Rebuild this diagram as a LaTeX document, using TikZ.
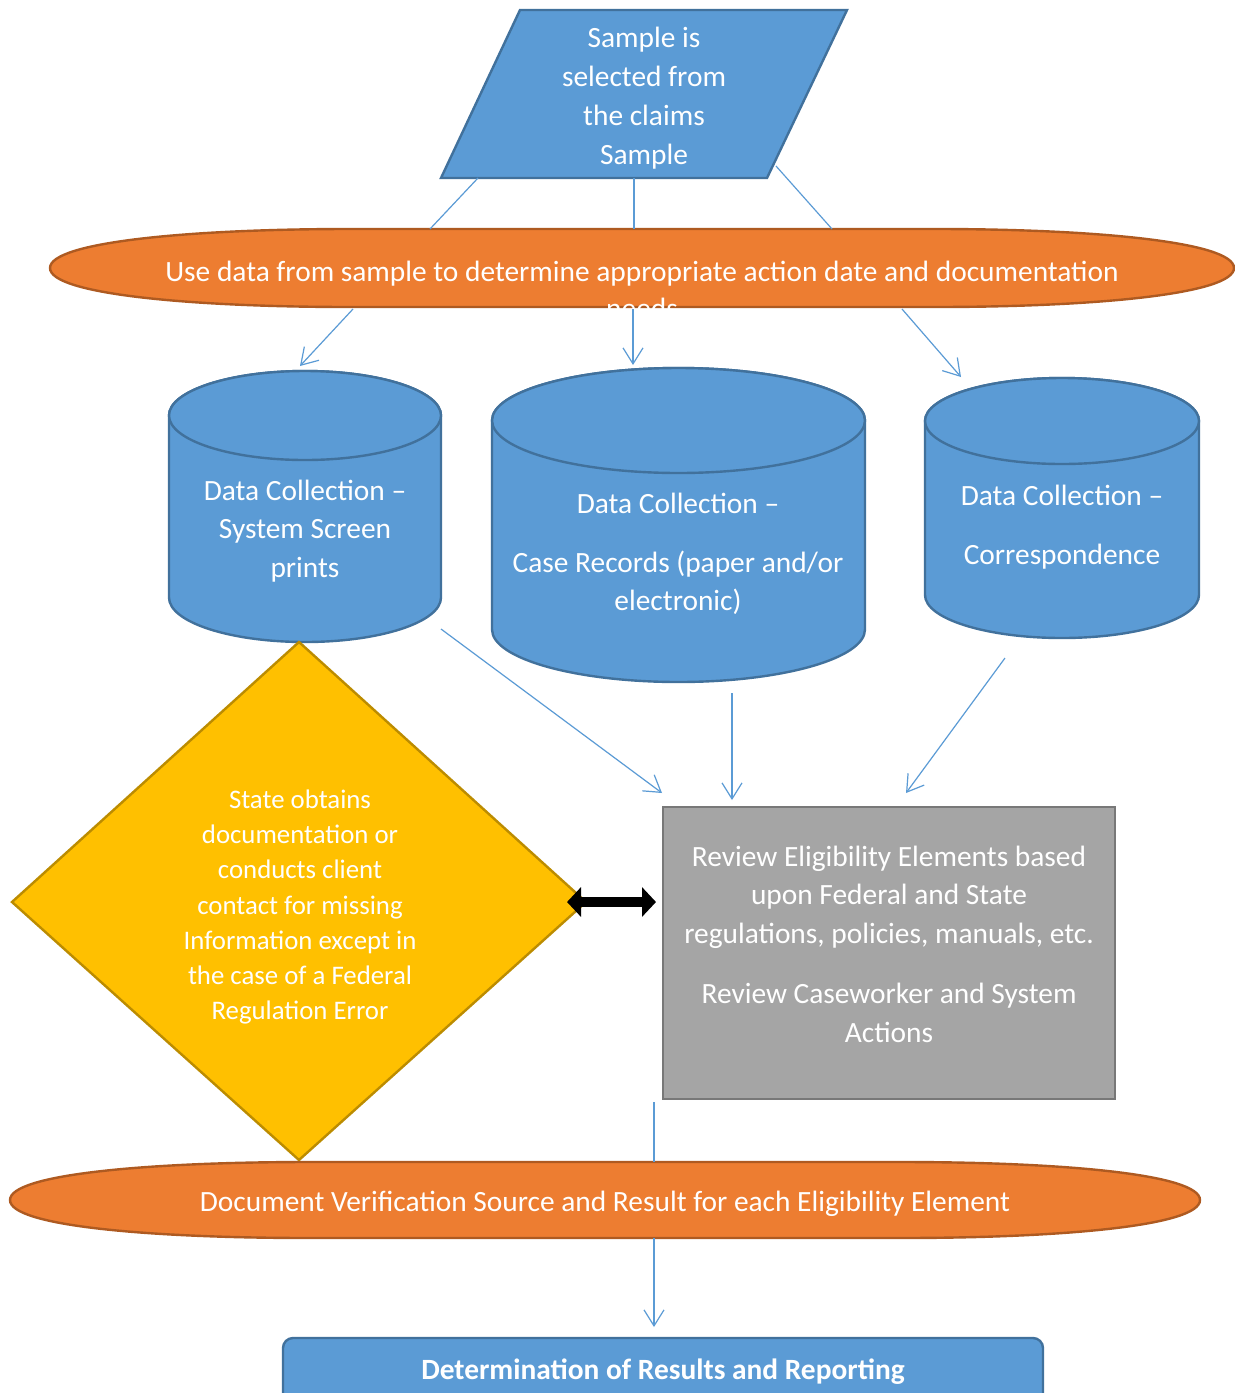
\documentclass[tikz,border=0pt]{standalone}
\usepackage{fontspec}
\setmainfont{Carlito}
\usetikzlibrary{arrows.meta}
\definecolor{blueF}{HTML}{5B9BD5}
\definecolor{blueD}{HTML}{41719C}
\definecolor{orF}{HTML}{ED7D31}
\definecolor{orD}{HTML}{AE5A21}
\definecolor{yeF}{HTML}{FFC000}
\definecolor{yeD}{HTML}{BC8C00}
\definecolor{grF}{HTML}{A5A5A5}
\definecolor{grD}{HTML}{787878}
\begin{document}
\begin{tikzpicture}[x=0.5pt,y=-0.5pt,
  blueshape/.style={fill=blueF,draw=blueD,line width=1.2pt},
  orshape/.style={fill=orF,draw=orD,line width=1.2pt},
  txt/.style={text=white,align=center,inner sep=0pt,font=\fontsize{14.7}{19.4}\selectfont},
  smalltxt/.style={text=white,align=center,inner sep=0pt,font=\fontsize{13.4}{17.6}\selectfont},
  conn/.style={draw=blueF,line width=0.6pt},
  arr/.style={conn,-{Straight Barb[length=8pt,width=10pt]}}]
\clip (0,0) rectangle (1235,1393);
\fill[white] (0,0) rectangle (1235,1393);

% parallelogram
\draw[blueshape] (520,10) -- (847,10) -- (767,178) -- (441,178) -- cycle;
\node[txt] (start) at (644,98) {Sample is\\selected from\\the claims\\Sample};
\coordinate (pA) at (478,178); \coordinate (pB) at (634,178); \coordinate (pC) at (776,166);

% first orange
\draw[orshape] (50,268) .. controls (50,242) and (190,229) .. (350,229) -- (935,229)
  .. controls (1095,229) and (1234,242) .. (1234,268)
  .. controls (1234,294) and (1095,307) .. (935,307) -- (350,307)
  .. controls (190,307) and (50,294) .. (50,268) -- cycle;
\node[txt,font=\fontsize{14.7}{18.5}\selectfont] (use) at (642,290) {Use data from sample to determine appropriate action date and documentation\\needs};
\coordinate (oA) at (430,229); \coordinate (oB) at (634,229); \coordinate (oC) at (832,229);
\coordinate (oD) at (353,309); \coordinate (oE) at (633,309); \coordinate (oF) at (902,309);

% cylinders
\newcommand{\mycyl}[6]{% cx, rx, yctop, ry, ycbot, name
  \draw[blueshape] (#1-#2,#3) -- (#1-#2,#5) arc[start angle=180,end angle=0,x radius=#2,y radius=#4]
    -- (#1+#2,#3) arc[start angle=0,end angle=-180,x radius=#2,y radius=#4] -- cycle;
  \draw[blueshape] (#1,#3) ellipse[x radius=#2,y radius=#4];
  \coordinate (#6) at (#1,#3);}
\mycyl{305}{136}{415.5}{44.5}{597.5}{cylA}
\mycyl{678.5}{186.5}{420.5}{52.5}{629.5}{cylB}
\mycyl{1062}{137}{421}{43}{595}{cylC}
\node[txt] (tA) at (305,531) {Data Collection --\\System Screen\\prints};
\node[txt] (tB) at (678,554) {Data Collection --\\[10pt]Case Records (paper and/or\\electronic)};
\node[txt] (tC) at (1062,527) {Data Collection --\\[10pt]Correspondence};
\coordinate (cA1) at (300,366); \coordinate (cB1) at (633,365); \coordinate (cC1) at (961,377);
\coordinate (cA2) at (441,629); \coordinate (cB2) at (732,693); \coordinate (cC2) at (1005,658);

% gray box
\draw[fill=grF,draw=grD,line width=1.2pt] (663,807) rectangle (1115,1099);
\node[txt] (rev) at (889,944) {Review Eligibility Elements based\\upon Federal and State\\regulations, policies, manuals, etc.\\[10.5pt]Review Caseworker and System\\Actions};
\coordinate (gA) at (662,793); \coordinate (gB) at (732,800); \coordinate (gC) at (906,793);
\coordinate (gD) at (654,1102);

% diamond
\draw[fill=yeF,draw=yeD,line width=1.2pt] (299,642) -- (586,902) -- (299,1160) -- (12,902) -- cycle;
\node[smalltxt] (state) at (300,907) {State obtains\\documentation or\\conducts client\\contact for missing\\Information except in\\the case of a Federal\\Regulation Error};
\coordinate (dR) at (567,902); \coordinate (gL) at (656,902);

% second orange
\draw[orshape] (10,1200) .. controls (10,1174) and (150,1162) .. (310,1162) -- (900,1162)
  .. controls (1060,1162) and (1200,1174) .. (1200,1200)
  .. controls (1200,1226) and (1060,1238) .. (900,1238) -- (310,1238)
  .. controls (150,1238) and (10,1226) .. (10,1200) -- cycle;
\node[txt] (doc) at (605,1204) {Document Verification Source and Result for each Eligibility Element};
\coordinate (o2T) at (654,1162); \coordinate (o2B) at (654,1238); \coordinate (fT) at (654,1327);

% final box
\draw[blueshape,rounded corners=5pt] (283,1338) rectangle (1043,1420);
\node[txt,font=\fontsize{14.7}{19}\selectfont\bfseries] (final) at (663,1372) {Determination of Results and Reporting};

% connectors
\draw[conn] (pA) -- (oA);
\draw[conn] (pB) -- (oB);
\draw[conn] (pC) -- (oC);
\draw[arr] (oD) -- (cA1);
\draw[arr] (oE) -- (cB1);
\draw[arr] (oF) -- (cC1);
\draw[arr] (cA2) -- (gA);
\draw[arr] (cB2) -- (gB);
\draw[arr] (cC2) -- (gC);
\draw[conn] (gD) -- (o2T);
\draw[arr] (o2B) -- (fT);
\draw[line width=5pt,{Triangle[length=7pt,width=14.5pt]}-{Triangle[length=7pt,width=14.5pt]}] (dR) -- (gL);
\end{tikzpicture}
\end{document}
